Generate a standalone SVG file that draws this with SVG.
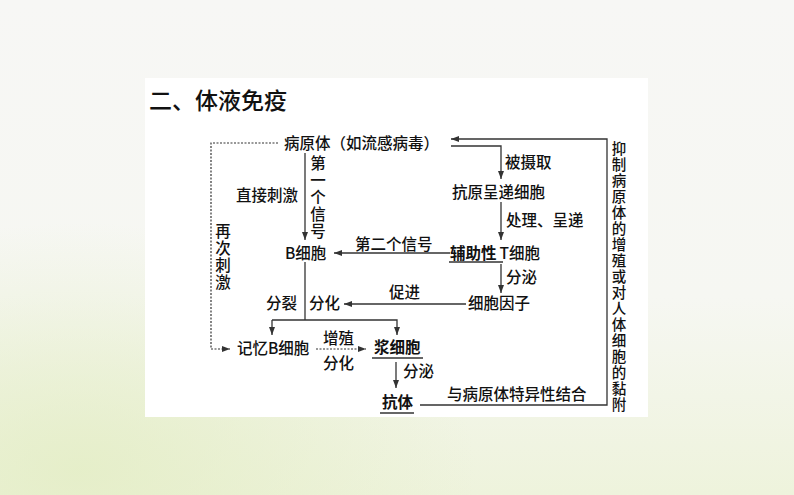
<svg xmlns="http://www.w3.org/2000/svg" width="794" height="495" viewBox="0 0 794 495">
<defs>
<linearGradient id="bg" x1="0" y1="0" x2="0" y2="1">
<stop offset="0" stop-color="#f7f7f5"/>
<stop offset="0.6" stop-color="#f6f7f2"/>
<stop offset="1" stop-color="#eef3dc"/>
</linearGradient>
<radialGradient id="blob" cx="0.1" cy="0.95" r="0.5">
<stop offset="0" stop-color="#e3edc4" stop-opacity="0.8"/>
<stop offset="1" stop-color="#e3edc4" stop-opacity="0"/>
</radialGradient>
<marker id="ah" markerWidth="8" markerHeight="6" refX="8" refY="3" orient="auto" markerUnits="userSpaceOnUse">
<path d="M0,0 L8,3 L0,6 z" fill="#333"/>
</marker>
<style>
.t{font-family:"Noto Sans CJK SC","Liberation Sans",sans-serif;font-size:15.5px;font-weight:500;fill:#111}
.vt{writing-mode:vertical-rl;letter-spacing:1.5px}
.v{font-size:14.5px;letter-spacing:1.5px}
.b{font-weight:bold}
.ln{fill:none;stroke:#333;stroke-width:1.3}
.dt{fill:none;stroke:#333;stroke-width:1.2;stroke-dasharray:2,1.5}
.ul{stroke:#333;stroke-width:1.3}
</style>
</defs>
<rect width="794" height="495" fill="url(#bg)"/>
<rect width="794" height="495" fill="url(#blob)"/>
<rect x="145" y="78" width="503" height="339" fill="#ffffff"/>

<text x="149" y="109" style="font-family:'Noto Sans CJK SC',sans-serif;font-size:23px;font-weight:500;fill:#111">二、体液免疫</text>

<g id="connectors">
<polyline class="dt" points="278,143 211,143 211,349 230,349" marker-end="url(#ah)"/>
<line class="ln" x1="305" y1="153" x2="305" y2="240" marker-end="url(#ah)"/>
<polyline class="ln" points="420,405 607,405 607,139 451,139" marker-end="url(#ah)"/>
<polyline class="ln" points="451,146 501,146 501,179" marker-end="url(#ah)"/>
<line class="ln" x1="501" y1="202" x2="501" y2="240" marker-end="url(#ah)"/>
<line class="ln" x1="450" y1="253" x2="334" y2="253" marker-end="url(#ah)"/>
<line class="ln" x1="501" y1="264" x2="501" y2="293" marker-end="url(#ah)"/>
<line class="ln" x1="466" y1="304" x2="344" y2="304" marker-end="url(#ah)"/>
<line class="ln" x1="305" y1="262" x2="305" y2="320"/>
<polyline class="ln" points="272,320 397,320 397,335" marker-end="url(#ah)"/>
<line class="ln" x1="272" y1="320" x2="272" y2="335" marker-end="url(#ah)"/>
<line class="dt" x1="316" y1="349" x2="366" y2="349" marker-end="url(#ah)"/>
<line class="ln" x1="396" y1="362" x2="396" y2="388" marker-end="url(#ah)"/>
</g>

<g id="n-pathogen"><text class="t" x="284" y="149">病原体（如流感病毒）</text></g>
<g id="l-first"><text class="t vt" x="318" y="155">第一个信号</text></g>
<g id="l-direct"><text class="t" x="236" y="201">直接刺激</text></g>
<g id="l-again"><text class="t vt" x="223" y="223">再次刺激</text></g>
<g id="l-taken"><text class="t" x="505" y="168">被摄取</text></g>
<g id="n-apc"><text class="t" x="452" y="198">抗原呈递细胞</text></g>
<g id="l-process"><text class="t" x="506" y="226">处理、呈递</text></g>
<g id="n-th">
<text class="t" x="450" y="259"><tspan class="b">辅助性</tspan><tspan dx="3">T细胞</tspan></text>
<line class="ul" x1="449" y1="262" x2="503" y2="262"/>
</g>
<g id="l-second"><text class="t" x="355" y="250">第二个信号</text></g>
<g id="n-b"><text class="t" x="285" y="259">B细胞</text></g>
<g id="l-secrete1"><text class="t" x="506" y="283">分泌</text></g>
<g id="n-cytokine"><text class="t" x="468" y="309">细胞因子</text></g>
<g id="l-promote"><text class="t" x="389" y="298">促进</text></g>
<g id="l-divide"><text class="t" x="266" y="309">分裂</text><text class="t" x="309" y="309">分化</text></g>
<g id="n-memory"><text class="t" x="237" y="354">记忆B细胞</text></g>
<g id="l-prolif"><text class="t" x="323" y="344">增殖</text><text class="t" x="323" y="369">分化</text></g>
<g id="n-plasma">
<text class="t b" x="374" y="353">浆细胞</text>
<line class="ul" x1="372" y1="358" x2="423" y2="358"/>
</g>
<g id="l-secrete2"><text class="t" x="403" y="377">分泌</text></g>
<g id="n-antibody">
<text class="t b" x="382" y="408">抗体</text>
<line class="ul" x1="380" y1="413" x2="414" y2="413"/>
</g>
<g id="l-bind"><text class="t" x="447" y="400">与病原体特异性结合</text></g>
<g id="l-inhibit"><text class="t vt v" x="619" y="141">抑制病原体的增殖或对人体细胞的黏附</text></g>
</svg>
